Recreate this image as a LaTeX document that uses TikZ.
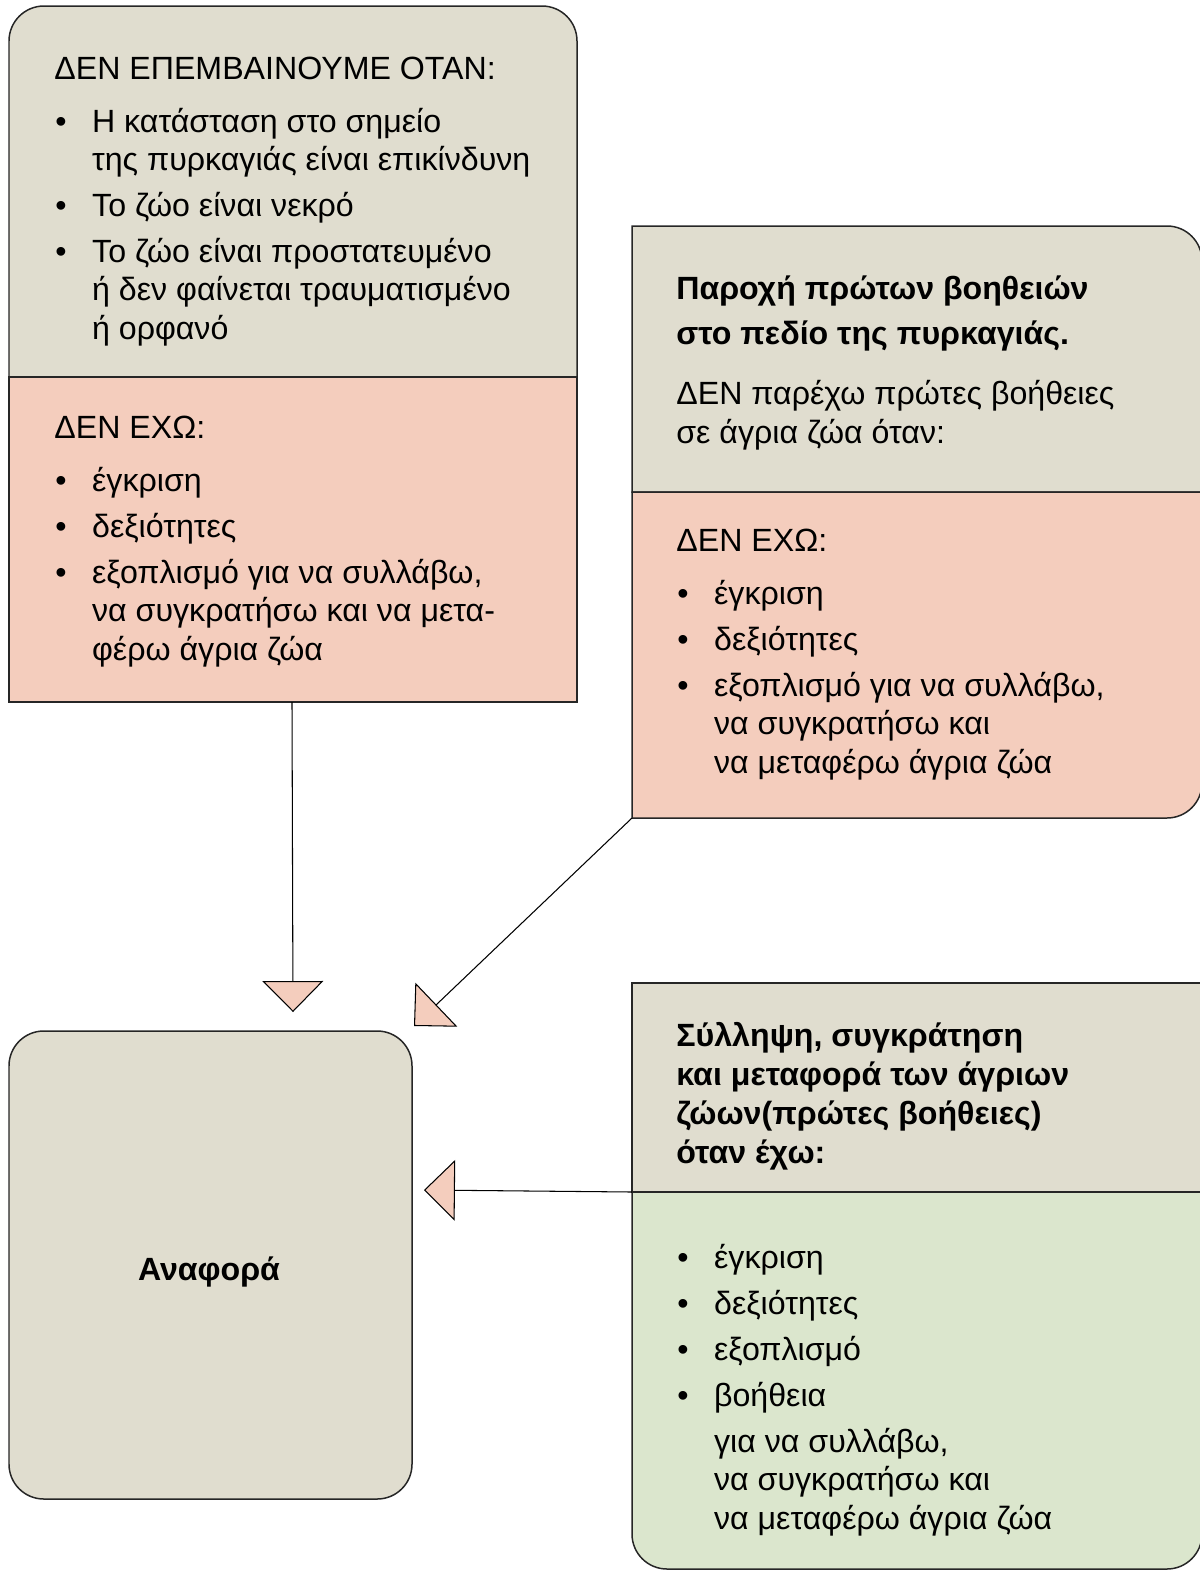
\documentclass[tikz,border=0pt]{standalone}
\usepackage{fontspec}
\setmainfont{Liberation Sans}
\usetikzlibrary{arrows.meta}
\definecolor{beigefill}{RGB}{224,221,207}
\definecolor{salmonfill}{RGB}{244,205,189}
\definecolor{greenfill}{RGB}{219,230,205}
\tikzset{
  boxline/.style={line width=0.85pt,draw=black!85},
  flow/.style={-{Triangle[length=17.6pt,width=34.6pt,fill=salmonfill]},line width=0.6pt},
  txt/.style={anchor=base west,inner sep=0,align=left,font=\fontsize{18.3}{21.8}\selectfont},
}
\newcommand{\bul}{\makebox[21.5pt][l]{\hspace*{0.6pt}•}}
\newcommand{\ind}{\hspace*{21.5pt}}

\begin{document}
\begin{tikzpicture}[x=0.02cm,y=-0.02cm]
  \useasboundingbox (0,0) rectangle (1200,1573);
  % top left box
  \draw[boxline,fill=beigefill] (9,377) -- (9,41) arc[start angle=180,end angle=270,radius=35]
    -- (542,6) arc[start angle=270,end angle=360,radius=35] -- (577,377) -- cycle;
  \draw[boxline,fill=salmonfill] (9,377) rectangle (577,702);
  % top right box
  \draw[boxline,fill=beigefill] (632,492) -- (632,226) -- (1167,226)
    arc[start angle=270,end angle=360,radius=35] -- (1202,492) -- cycle;
  \draw[boxline,fill=salmonfill] (632,492) -- (1202,492) -- (1202,783)
    arc[start angle=0,end angle=90,radius=35] -- (632,818) -- cycle;
  % bottom right box
  \draw[boxline,fill=beigefill] (632,983) rectangle (1202,1192);
  \draw[boxline,fill=greenfill] (632,1192) -- (1202,1192) -- (1202,1534)
    arc[start angle=0,end angle=90,radius=35] -- (667,1569)
    arc[start angle=90,end angle=180,radius=35] -- cycle;
  % report box
  \draw[boxline,fill=beigefill,rounded corners=19.8pt] (9,1031) rectangle (412,1499);

  % texts, placed by the baseline of their last line
  \node[txt] (stopTxt) at (54,339) {ΔΕΝ ΕΠΕΜΒΑΙΝΟΥΜΕ ΟΤΑΝ:\\[8.2pt]
    \bul Η κατάσταση στο σημείο\\
    \ind της πυρκαγιάς είναι επικίνδυνη\\[4.3pt]
    \bul Το ζώο είναι νεκρό\\[4.3pt]
    \bul Το ζώο είναι προστατευμένο\\
    \ind ή δεν φαίνεται τραυματισμένο\\
    \ind ή ορφανό};
  \node[txt] (lackTxtA) at (54,660) {ΔΕΝ ΕΧΩ:\\[8.2pt]
    \bul έγκριση\\[4.3pt]
    \bul δεξιότητες\\[4.3pt]
    \bul εξοπλισμό για να συλλάβω,\\
    \ind να συγκρατήσω και να μετα-\\
    \ind φέρω άγρια ζώα};
  \node[txt] (aidTxt) at (676,443) {\bfseries Παροχή πρώτων βοηθειών\\[4.3pt]
    \bfseries στο πεδίο της πυρκαγιάς.\\[12.2pt]
    ΔΕΝ παρέχω πρώτες βοήθειες\\
    σε άγρια ζώα όταν:};
  \node[txt] (lackTxtB) at (676,773) {ΔΕΝ ΕΧΩ:\\[8.2pt]
    \bul έγκριση\\[4.3pt]
    \bul δεξιότητες\\[4.3pt]
    \bul εξοπλισμό για να συλλάβω,\\
    \ind να συγκρατήσω και\\
    \ind να μεταφέρω άγρια ζώα};
  \node[txt,font=\fontsize{18.3}{22.2}\selectfont\bfseries] (catchTxt) at (676,1163) {Σύλληψη, συγκράτηση\\
    και μεταφορά των άγριων\\
    ζώων(πρώτες βοήθειες)\\
    όταν έχω:};
  \node[txt] (haveTxt) at (676,1529) {\bul έγκριση\\[4.3pt]
    \bul δεξιότητες\\[4.3pt]
    \bul εξοπλισμό\\[4.3pt]
    \bul βοήθεια\\[4.3pt]
    \ind για να συλλάβω,\\
    \ind να συγκρατήσω και\\
    \ind να μεταφέρω άγρια ζώα};
  \node[font=\fontsize{18.3}{21.8}\selectfont\bfseries] (report) at (209,1272) {Αναφορά};

  \coordinate (stopOut) at (292,702);
  \coordinate (reportIn1) at (293,1012);
  \coordinate (aidOut) at (632,818);
  \coordinate (reportIn2) at (414,1026);
  \coordinate (catchOut) at (632,1192);
  \coordinate (reportIn3) at (424,1190);
  \draw[flow] (stopOut) -- (reportIn1);
  \draw[flow] (aidOut) -- (reportIn2);
  \draw[flow] (catchOut) -- (reportIn3);
\end{tikzpicture}
\end{document}
